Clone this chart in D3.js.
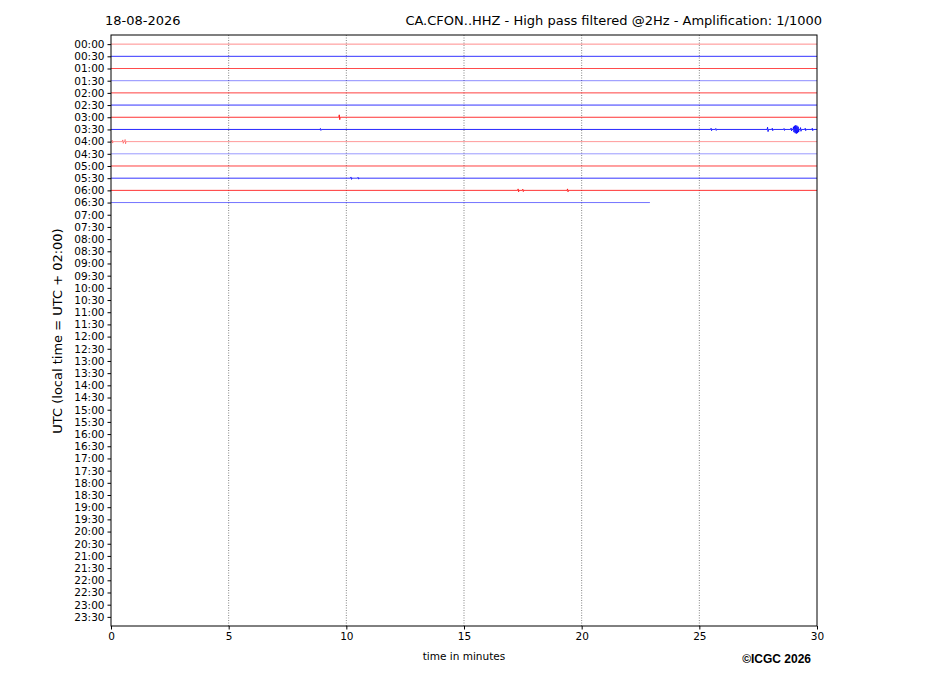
<!DOCTYPE html>
<html>
<head>
<meta charset="utf-8">
<script src="https://cdn.jsdelivr.net/npm/d3@7"></script>
<style>
body { margin:0; background:#fff; }
svg text { font-family: "DejaVu Sans", sans-serif; }
</style>
</head>
<body>
<div id="chart-area"></div>
<script>
const margin = {top:35, right:110, bottom:70, left:111};
const width = 927, height = 696;
const w = width - margin.left - margin.right;
const h = height - margin.top - margin.bottom;

const dateLabel = "18-08-2026";
const titleLabel = "CA.CFON..HHZ - High pass filtered @2Hz - Amplification: 1/1000";

// half-hour rows of the day
const rowLabels = d3.range(48).map(i => String(Math.floor(i/2)).padStart(2,"0") + (i%2 ? ":30" : ":00"));
const xTicks = [0,5,10,15,20,25,30];
const gridMinutes = [5,10,15,20,25];

// recorded rows: end minute and opacity of the trace
const traceEnds    = [30,30,30,30,30,30,30,30,30,30,30,30,30,22.9];
const traceOpacity = [0.45,0.8,0.7,0.45,0.75,0.8,0.8,0.85,0.4,0.4,0.75,0.8,0.8,0.55];
// visible events per row: [minute, amplitude in row units]
const traceEvents = [
  [],
  [],
  [],
  [],
  [],
  [],
  [[9.7,0.2]],
  [[8.9,0.08],[25.5,0.1],[25.7,0.08],[27.9,0.18],[28.1,0.1],[28.6,0.08],[28.9,0.12],[29.0,0.22],[29.05,0.3],[29.1,0.35],[29.15,0.3],[29.2,0.22],[29.3,0.15],[29.5,0.1],[29.8,0.1]],
  [[0.05,0.12],[0.5,0.14],[0.6,0.18]],
  [],
  [],
  [[10.2,0.1],[10.5,0.08]],
  [[17.3,0.12],[17.5,0.1],[19.4,0.12]],
  []
];

const svg = d3.select("#chart-area").append("svg")
  .attr("width", width).attr("height", height);
const g = svg.append("g").attr("transform", "translate(" + margin.left + "," + margin.top + ")");

const x = d3.scaleLinear().domain([0,30]).range([0,w]);
const y = d3.scaleLinear().domain([-0.75,47.75]).range([0,h]);

// dotted grid
g.selectAll(".grid").data(gridMinutes).enter().append("line")
  .attr("x1", d => x(d)).attr("x2", d => x(d))
  .attr("y1", 0).attr("y2", h)
  .attr("stroke", "#333").attr("stroke-width", 0.6)
  .attr("stroke-dasharray", "1,1.5");

// traces
const line = d3.line().x(d => x(d[0])).y(d => y(d[1]));
traceEnds.forEach((end, i) => {
  let pts = [[0,i]];
  traceEvents[i].forEach(e => {
    pts.push([e[0]-0.02,i],[e[0],i-e[1]],[e[0]+0.02,i+e[1]],[e[0]+0.04,i]);
  });
  pts.push([end,i]);
  g.append("path")
    .attr("d", line(pts))
    .attr("fill","none")
    .attr("stroke", i%2 ? "#0000ff" : "#ff0000")
    .attr("stroke-opacity", traceOpacity[i])
    .attr("stroke-width", 1);
});

// axes
const yAxis = d3.axisLeft(y).tickValues(d3.range(48)).tickFormat(i => rowLabels[i]).tickSize(3.5).tickPadding(3);
const gy = g.append("g").call(yAxis);
gy.select(".domain").remove();
gy.selectAll("text").attr("font-size", "10.5px").attr("fill","#000");

const xAxis = d3.axisBottom(x).tickValues(xTicks).tickSize(3.5).tickPadding(3.5);
const gx = g.append("g").attr("transform","translate(0,"+h+")").call(xAxis);
gx.select(".domain").remove();
gx.selectAll("text").attr("font-size", "10.5px").attr("fill","#000");

g.append("rect").attr("width", w).attr("height", h)
  .attr("fill","none").attr("stroke","#000").attr("stroke-width",1);

// labels
svg.append("text").attr("x",105).attr("y",25).attr("font-size","13px").text(dateLabel);
svg.append("text").attr("x",822).attr("y",25).attr("text-anchor","end").attr("font-size","13px").text(titleLabel);
svg.append("text").attr("x",464).attr("y",660).attr("text-anchor","middle").attr("font-size","10.5px").text("time in minutes");
svg.append("text").attr("transform","translate(62,331) rotate(-90)").attr("text-anchor","middle")
  .attr("font-size","13px").text("UTC (local time = UTC + 02:00)");
svg.append("text").attr("x",811).attr("y",663).attr("text-anchor","end")
  .attr("font-size","12px").attr("font-weight","bold")
  .style("font-family","'Liberation Sans', Arial, sans-serif").text("©ICGC 2026");
</script>
</body>
</html>
